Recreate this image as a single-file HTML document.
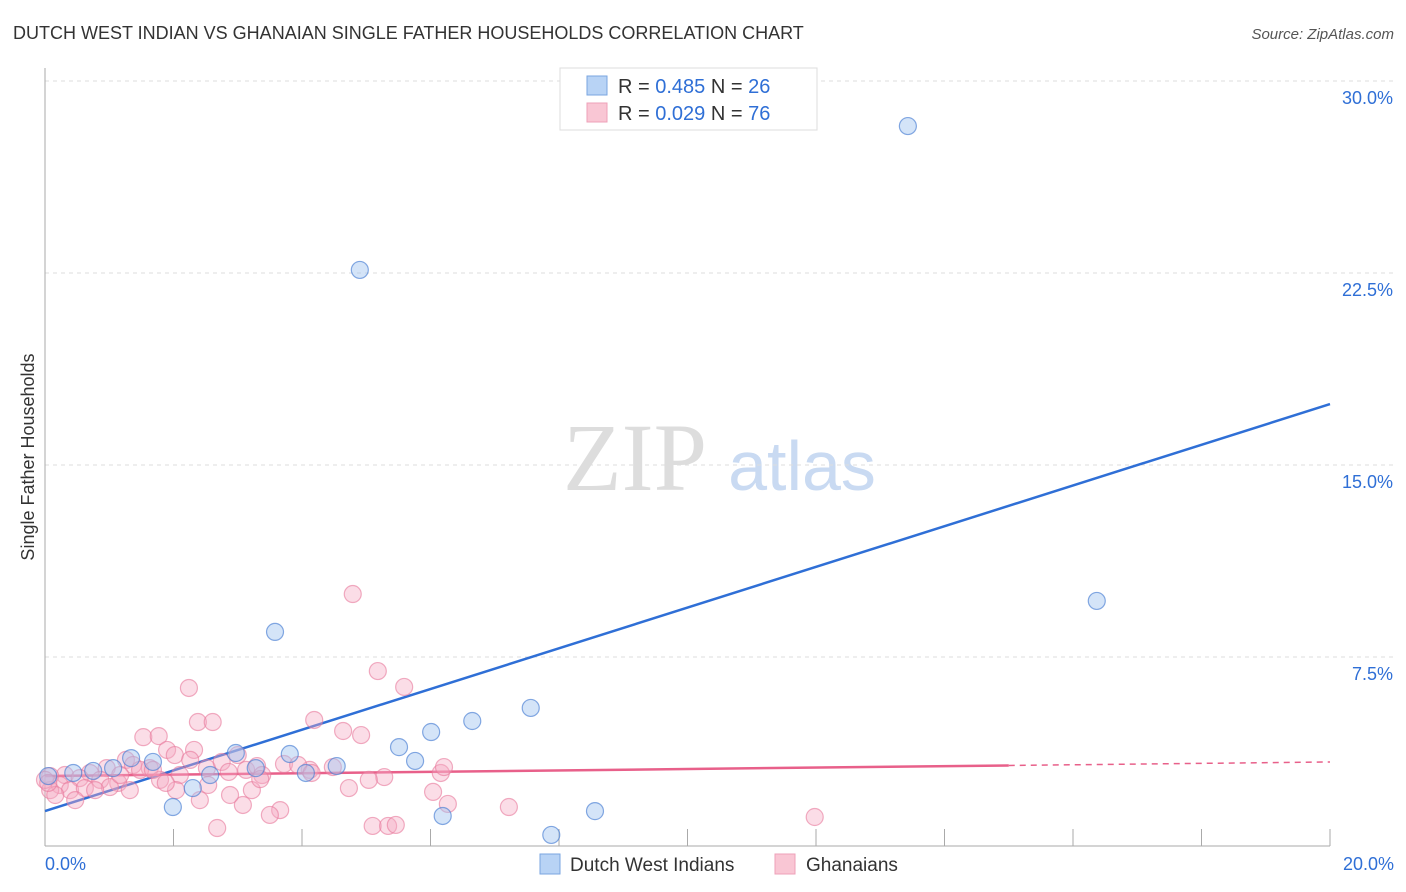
<!DOCTYPE html>
<html><head><meta charset="utf-8"><style>
body{margin:0;background:#fff;font-family:"Liberation Sans",sans-serif;}
svg{display:block}
</style></head><body>
<svg id="chart" width="1406" height="892" xmlns="http://www.w3.org/2000/svg">
<text x="13" y="39" font-size="18" fill="#333">DUTCH WEST INDIAN VS GHANAIAN SINGLE FATHER HOUSEHOLDS CORRELATION CHART</text>
<text x="1394" y="39" font-size="15" fill="#555" text-anchor="end" font-style="italic">Source: ZipAtlas.com</text>
<text transform="translate(34,457) rotate(-90)" font-size="18" fill="#333" text-anchor="middle">Single Father Households</text>
<g><text x="635" y="490" font-size="96" fill="#ddd" font-family="Liberation Serif" text-anchor="middle">ZIP</text><text x="802" y="490" font-size="70" fill="#c9daf2" text-anchor="middle">atlas</text></g>
<g id="grid"></g><g id="axes"></g><g id="lines"></g><g id="pts"></g>
<g>
<rect x="560" y="68" width="257" height="62" fill="#fff" stroke="#ddd"/>
<rect x="587" y="76" width="20" height="19" fill="#b8d3f5" stroke="#7aa6e0"/>
<rect x="587" y="103" width="20" height="19" fill="#f9c6d4" stroke="#eea0b8"/>
<text x="618" y="93" font-size="20" fill="#333">R = <tspan fill="#2f6fd6">0.485</tspan>   N = <tspan fill="#2f6fd6">26</tspan></text>
<text x="618" y="120" font-size="20" fill="#333">R = <tspan fill="#2f6fd6">0.029</tspan>   N = <tspan fill="#2f6fd6">76</tspan></text>
</g>
<g>
<rect x="540" y="854" width="20" height="20" fill="#b8d3f5" stroke="#7aa6e0"/>
<text x="570" y="871" font-size="19" fill="#333">Dutch West Indians</text>
<rect x="775" y="854" width="20" height="20" fill="#f9c6d4" stroke="#eea0b8"/>
<text x="806" y="871" font-size="19" fill="#333">Ghanaians</text>
</g>
</svg>
<script>
const yTicks=[7.5,15,22.5,30];
const yTickLabels=["7.5%","15.0%","22.5%","30.0%"];
const xTicks=[0,2,4,6,8,10,12,14,16,18,20];
const xLabels=["0.0%","20.0%"];
const blueX=[13.43,4.90,16.37,3.58,7.56,6.65,6.01,5.51,3.81,2.97,5.76,4.54,4.06,3.28,1.68,1.34,1.06,0.75,0.44,0.05,2.57,2.30,1.99,6.19,8.56,7.88];
const blueY=[28.24,22.62,9.69,8.48,5.51,5.00,4.57,3.98,3.71,3.75,3.44,3.24,2.97,3.16,3.40,3.55,3.16,3.05,2.97,2.85,2.89,2.38,1.64,1.29,1.48,0.55];
const pinkX=[4.79,5.18,5.59,2.24,4.19,2.38,2.61,4.64,4.92,1.53,1.77,1.90,2.32,2.02,1.26,3.00,1.37,1.63,0.96,0.70,0.31,0.08,0.54,0.86,1.14,0.23,0.39,0.62,1.01,1.32,0.08,0.16,0.00,1.48,1.79,2.10,2.52,2.75,2.86,3.13,3.30,3.38,2.54,2.04,1.88,2.41,3.22,4.12,4.48,5.28,5.04,4.73,6.04,6.16,6.21,6.27,7.22,3.08,3.66,3.50,2.68,5.10,5.34,5.46,11.98,3.72,3.94,4.15,3.35,1.68,1.17,0.78,0.47,0.05,2.26,2.88];
const pinkY=[9.96,6.95,6.33,6.29,5.04,4.96,4.96,4.61,4.45,4.37,4.41,3.87,3.87,3.67,3.48,3.67,3.28,3.16,3.16,2.97,2.89,2.85,2.77,2.70,2.58,2.50,2.30,2.38,2.42,2.30,2.30,2.11,2.70,3.09,2.70,2.89,3.16,3.40,3.01,3.09,3.24,2.89,2.50,2.30,2.58,1.91,2.30,3.09,3.20,2.81,2.70,2.38,2.23,2.97,3.20,1.76,1.64,1.72,1.52,1.33,0.82,0.90,0.90,0.94,1.25,3.32,3.28,2.97,2.73,3.09,2.89,2.30,1.91,2.58,3.48,2.11];
const blueFit=[1.48,17.38];   // value at x=0, x=20
const pinkFit=[2.85,3.40];
const pinkSolidEnd=15;
const NS="http://www.w3.org/2000/svg";
const X=v=>45+v/20*1285, Y=v=>849-v/30*768;
function mk(t,a,p){const e=document.createElementNS(NS,t);for(const k in a)e.setAttribute(k,a[k]);document.getElementById(p).appendChild(e);return e;}
yTicks.forEach((t,i)=>{
 const g=mk('line',{x1:45,x2:1394,y1:Y(t),y2:Y(t),stroke:'#ddd','stroke-dasharray':'4,4'},'grid');
 
 
 const l=mk('text',{x:1393,y:Y(t)+23,'font-size':18,fill:'#2f6fd6','text-anchor':'end'},'axes');
 l.textContent=yTickLabels[i];
 
 
});
const ax=mk('line',{x1:45,x2:45,y1:68,y2:846,stroke:'#aaa'},'axes');


const bx=mk('line',{x1:45,x2:1330,y1:846,y2:846,stroke:'#aaa'},'axes');


xTicks.forEach(t=>{if(t===0)return;
 const k=mk('line',{x1:X(t),x2:X(t),y1:829,y2:846,stroke:'#aaa'},'axes');
 
 });
[[0,'start',45],[20,'end',1394]].forEach((d,i)=>{
 const l=mk('text',{x:d[2],y:870,'font-size':18,fill:'#2f6fd6','text-anchor':d[1]},'axes');
 l.textContent=xLabels[i];
 
 });
const pf=v=>pinkFit[0]+(pinkFit[1]-pinkFit[0])*v/20;
const l1=mk('line',{x1:X(0),y1:Y(blueFit[0]),x2:X(20),y2:Y(blueFit[1]),stroke:'#2f6fd6','stroke-width':2.5},'lines');


const l2=mk('line',{x1:X(0),y1:Y(pf(0)),x2:X(pinkSolidEnd),y2:Y(pf(pinkSolidEnd)),stroke:'#e8608a','stroke-width':2.5},'lines');


const l3=mk('line',{x1:X(pinkSolidEnd),y1:Y(pf(pinkSolidEnd)),x2:X(20),y2:Y(pf(20)),stroke:'#e8608a','stroke-width':1.5,'stroke-dasharray':'6,5'},'lines');


pinkX.forEach((x,i)=>{
 const c=mk('circle',{cx:X(x),cy:Y(pinkY[i]),r:8.5,fill:'rgba(246,170,195,0.4)',stroke:'rgba(232,120,155,0.6)','stroke-width':1.2},'pts');
 
 });
blueX.forEach((x,i)=>{
 const c=mk('circle',{cx:X(x),cy:Y(blueY[i]),r:8.5,fill:'rgba(160,195,240,0.45)',stroke:'rgba(70,125,210,0.65)','stroke-width':1.2},'pts');
 
 });
</script>
</body></html>
